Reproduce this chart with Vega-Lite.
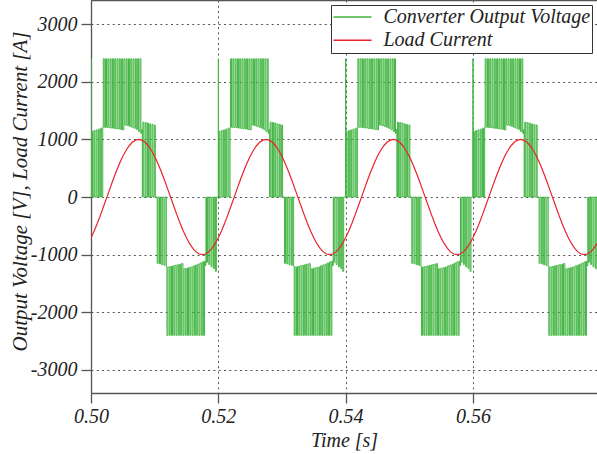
{
  "$schema": "https://vega.github.io/schema/vega-lite/v6.json",
  "width": 506,
  "height": 393,
  "autosize": {"type": "none"},
  "padding": {"left": 91, "top": 0, "right": 0, "bottom": 61},
  "background": "white",
  "config": {
    "view": {"stroke": null},
    "font": "Liberation Serif, Times New Roman, serif",
    "axis": {
      "domainColor": "#555", "domainWidth": 1.3,
      "tickColor": "#555", "tickWidth": 1.3, "tickSize": 10,
      "gridColor": "#555", "gridDash": [2, 3.3], "gridWidth": 1, "gridOpacity": 1,
      "labelFont": "Liberation Serif, Times New Roman, serif", "labelFontStyle": "italic", "labelFontSize": 20, "labelColor": "#222",
      "labelFlush": false, "labelOverlap": false,
      "titleFont": "Liberation Serif, Times New Roman, serif", "titleFontStyle": "italic", "titleFontSize": 20, "titleFontWeight": "normal", "titleColor": "#222"
    },
    "axisX": {"labelPadding": 3},
    "axisY": {"labelPadding": 4, "titleFontSize": 21}
  },
  "datasets": {
    "volt": [
{"t":0.50000,"v":2400},{"t":0.50003,"v":0},{"t":0.50008,"v":1140},{"t":0.50023,"v":0},{"t":0.50044,"v":1155},{"t":0.50059,"v":0},{"t":0.50080,"v":1165},{"t":0.50095,"v":0},{"t":0.50116,"v":1180},{"t":0.50131,"v":0},{"t":0.50152,"v":1195},{"t":0.50167,"v":0},{"t":0.50185,"v":1210},
{"t":0.50193,"v":2400},{"t":0.50208,"v":1212},{"t":0.50229,"v":2400},{"t":0.50244,"v":1208},{"t":0.50265,"v":2400},{"t":0.50280,"v":1205},{"t":0.50301,"v":2400},{"t":0.50316,"v":1198},{"t":0.50337,"v":2400},{"t":0.50352,"v":1193},{"t":0.50373,"v":2400},{"t":0.50388,"v":1188},{"t":0.50409,"v":2400},{"t":0.50424,"v":1182},{"t":0.50445,"v":2400},{"t":0.50460,"v":1175},{"t":0.50481,"v":2400},{"t":0.50496,"v":1165},{"t":0.50517,"v":2400},{"t":0.50532,"v":1250},{"t":0.50553,"v":2400},{"t":0.50568,"v":1240},{"t":0.50589,"v":2400},{"t":0.50604,"v":1228},{"t":0.50625,"v":2400},{"t":0.50640,"v":1212},{"t":0.50661,"v":2400},{"t":0.50676,"v":1195},{"t":0.50697,"v":2400},{"t":0.50712,"v":1175},{"t":0.50733,"v":2400},{"t":0.50748,"v":1140},{"t":0.50769,"v":2400},{"t":0.50784,"v":1105},{"t":0.50795,"v":1170},
{"t":0.50806,"v":0},{"t":0.50815,"v":1300},{"t":0.50830,"v":0},{"t":0.50851,"v":1295},{"t":0.50866,"v":0},{"t":0.50887,"v":1285},{"t":0.50902,"v":0},{"t":0.50923,"v":1270},{"t":0.50938,"v":0},{"t":0.50959,"v":1260},{"t":0.50974,"v":0},{"t":0.50995,"v":1250},{"t":0.51010,"v":0},
{"t":0.51040,"v":-1150},{"t":0.51055,"v":0},{"t":0.51076,"v":-1160},{"t":0.51091,"v":0},{"t":0.51112,"v":-1175},{"t":0.51127,"v":0},{"t":0.51148,"v":-1185},{"t":0.51163,"v":0},{"t":0.51184,"v":-1205},
{"t":0.51193,"v":-2400},{"t":0.51208,"v":-1215},{"t":0.51229,"v":-2400},{"t":0.51244,"v":-1205},{"t":0.51265,"v":-2400},{"t":0.51280,"v":-1195},{"t":0.51301,"v":-2400},{"t":0.51316,"v":-1185},{"t":0.51337,"v":-2400},{"t":0.51352,"v":-1175},{"t":0.51373,"v":-2400},{"t":0.51388,"v":-1165},{"t":0.51409,"v":-2400},{"t":0.51424,"v":-1155},{"t":0.51445,"v":-2400},{"t":0.51460,"v":-1245},{"t":0.51481,"v":-2400},{"t":0.51496,"v":-1235},{"t":0.51517,"v":-2400},{"t":0.51532,"v":-1225},{"t":0.51553,"v":-2400},{"t":0.51568,"v":-1215},{"t":0.51589,"v":-2400},{"t":0.51604,"v":-1195},{"t":0.51625,"v":-2400},{"t":0.51640,"v":-1180},{"t":0.51661,"v":-2400},{"t":0.51676,"v":-1165},{"t":0.51697,"v":-2400},{"t":0.51712,"v":-1145},{"t":0.51733,"v":-2400},{"t":0.51748,"v":-1125},{"t":0.51769,"v":-2400},{"t":0.51784,"v":-1110},{"t":0.51795,"v":-1190},
{"t":0.51806,"v":0},{"t":0.51815,"v":-1130},{"t":0.51830,"v":0},{"t":0.51851,"v":-1170},{"t":0.51866,"v":0},{"t":0.51887,"v":-1210},{"t":0.51902,"v":0},{"t":0.51923,"v":-1240},{"t":0.51938,"v":0},{"t":0.51955,"v":-1290},{"t":0.51970,"v":0},

{"t":0.52000,"v":2400},{"t":0.52003,"v":0},{"t":0.52008,"v":1140},{"t":0.52023,"v":0},{"t":0.52044,"v":1155},{"t":0.52059,"v":0},{"t":0.52080,"v":1165},{"t":0.52095,"v":0},{"t":0.52116,"v":1180},{"t":0.52131,"v":0},{"t":0.52152,"v":1195},{"t":0.52167,"v":0},{"t":0.52185,"v":1210},
{"t":0.52193,"v":2400},{"t":0.52208,"v":1212},{"t":0.52229,"v":2400},{"t":0.52244,"v":1208},{"t":0.52265,"v":2400},{"t":0.52280,"v":1205},{"t":0.52301,"v":2400},{"t":0.52316,"v":1198},{"t":0.52337,"v":2400},{"t":0.52352,"v":1193},{"t":0.52373,"v":2400},{"t":0.52388,"v":1188},{"t":0.52409,"v":2400},{"t":0.52424,"v":1182},{"t":0.52445,"v":2400},{"t":0.52460,"v":1175},{"t":0.52481,"v":2400},{"t":0.52496,"v":1165},{"t":0.52517,"v":2400},{"t":0.52532,"v":1250},{"t":0.52553,"v":2400},{"t":0.52568,"v":1240},{"t":0.52589,"v":2400},{"t":0.52604,"v":1228},{"t":0.52625,"v":2400},{"t":0.52640,"v":1212},{"t":0.52661,"v":2400},{"t":0.52676,"v":1195},{"t":0.52697,"v":2400},{"t":0.52712,"v":1175},{"t":0.52733,"v":2400},{"t":0.52748,"v":1140},{"t":0.52769,"v":2400},{"t":0.52784,"v":1105},{"t":0.52795,"v":1170},
{"t":0.52806,"v":0},{"t":0.52815,"v":1300},{"t":0.52830,"v":0},{"t":0.52851,"v":1295},{"t":0.52866,"v":0},{"t":0.52887,"v":1285},{"t":0.52902,"v":0},{"t":0.52923,"v":1270},{"t":0.52938,"v":0},{"t":0.52959,"v":1260},{"t":0.52974,"v":0},{"t":0.52995,"v":1250},{"t":0.53010,"v":0},
{"t":0.53040,"v":-1150},{"t":0.53055,"v":0},{"t":0.53076,"v":-1160},{"t":0.53091,"v":0},{"t":0.53112,"v":-1175},{"t":0.53127,"v":0},{"t":0.53148,"v":-1185},{"t":0.53163,"v":0},{"t":0.53184,"v":-1205},
{"t":0.53193,"v":-2400},{"t":0.53208,"v":-1215},{"t":0.53229,"v":-2400},{"t":0.53244,"v":-1205},{"t":0.53265,"v":-2400},{"t":0.53280,"v":-1195},{"t":0.53301,"v":-2400},{"t":0.53316,"v":-1185},{"t":0.53337,"v":-2400},{"t":0.53352,"v":-1175},{"t":0.53373,"v":-2400},{"t":0.53388,"v":-1165},{"t":0.53409,"v":-2400},{"t":0.53424,"v":-1155},{"t":0.53445,"v":-2400},{"t":0.53460,"v":-1245},{"t":0.53481,"v":-2400},{"t":0.53496,"v":-1235},{"t":0.53517,"v":-2400},{"t":0.53532,"v":-1225},{"t":0.53553,"v":-2400},{"t":0.53568,"v":-1215},{"t":0.53589,"v":-2400},{"t":0.53604,"v":-1195},{"t":0.53625,"v":-2400},{"t":0.53640,"v":-1180},{"t":0.53661,"v":-2400},{"t":0.53676,"v":-1165},{"t":0.53697,"v":-2400},{"t":0.53712,"v":-1145},{"t":0.53733,"v":-2400},{"t":0.53748,"v":-1125},{"t":0.53769,"v":-2400},{"t":0.53784,"v":-1110},{"t":0.53795,"v":-1190},
{"t":0.53806,"v":0},{"t":0.53815,"v":-1130},{"t":0.53830,"v":0},{"t":0.53851,"v":-1170},{"t":0.53866,"v":0},{"t":0.53887,"v":-1210},{"t":0.53902,"v":0},{"t":0.53923,"v":-1240},{"t":0.53938,"v":0},{"t":0.53955,"v":-1290},{"t":0.53970,"v":0},

{"t":0.54000,"v":2400},{"t":0.54003,"v":0},{"t":0.54008,"v":1140},{"t":0.54023,"v":0},{"t":0.54044,"v":1155},{"t":0.54059,"v":0},{"t":0.54080,"v":1165},{"t":0.54095,"v":0},{"t":0.54116,"v":1180},{"t":0.54131,"v":0},{"t":0.54152,"v":1195},{"t":0.54167,"v":0},{"t":0.54185,"v":1210},
{"t":0.54193,"v":2400},{"t":0.54208,"v":1212},{"t":0.54229,"v":2400},{"t":0.54244,"v":1208},{"t":0.54265,"v":2400},{"t":0.54280,"v":1205},{"t":0.54301,"v":2400},{"t":0.54316,"v":1198},{"t":0.54337,"v":2400},{"t":0.54352,"v":1193},{"t":0.54373,"v":2400},{"t":0.54388,"v":1188},{"t":0.54409,"v":2400},{"t":0.54424,"v":1182},{"t":0.54445,"v":2400},{"t":0.54460,"v":1175},{"t":0.54481,"v":2400},{"t":0.54496,"v":1165},{"t":0.54517,"v":2400},{"t":0.54532,"v":1250},{"t":0.54553,"v":2400},{"t":0.54568,"v":1240},{"t":0.54589,"v":2400},{"t":0.54604,"v":1228},{"t":0.54625,"v":2400},{"t":0.54640,"v":1212},{"t":0.54661,"v":2400},{"t":0.54676,"v":1195},{"t":0.54697,"v":2400},{"t":0.54712,"v":1175},{"t":0.54733,"v":2400},{"t":0.54748,"v":1140},{"t":0.54769,"v":2400},{"t":0.54784,"v":1105},{"t":0.54795,"v":1170},
{"t":0.54806,"v":0},{"t":0.54815,"v":1300},{"t":0.54830,"v":0},{"t":0.54851,"v":1295},{"t":0.54866,"v":0},{"t":0.54887,"v":1285},{"t":0.54902,"v":0},{"t":0.54923,"v":1270},{"t":0.54938,"v":0},{"t":0.54959,"v":1260},{"t":0.54974,"v":0},{"t":0.54995,"v":1250},{"t":0.55010,"v":0},
{"t":0.55040,"v":-1150},{"t":0.55055,"v":0},{"t":0.55076,"v":-1160},{"t":0.55091,"v":0},{"t":0.55112,"v":-1175},{"t":0.55127,"v":0},{"t":0.55148,"v":-1185},{"t":0.55163,"v":0},{"t":0.55184,"v":-1205},
{"t":0.55193,"v":-2400},{"t":0.55208,"v":-1215},{"t":0.55229,"v":-2400},{"t":0.55244,"v":-1205},{"t":0.55265,"v":-2400},{"t":0.55280,"v":-1195},{"t":0.55301,"v":-2400},{"t":0.55316,"v":-1185},{"t":0.55337,"v":-2400},{"t":0.55352,"v":-1175},{"t":0.55373,"v":-2400},{"t":0.55388,"v":-1165},{"t":0.55409,"v":-2400},{"t":0.55424,"v":-1155},{"t":0.55445,"v":-2400},{"t":0.55460,"v":-1245},{"t":0.55481,"v":-2400},{"t":0.55496,"v":-1235},{"t":0.55517,"v":-2400},{"t":0.55532,"v":-1225},{"t":0.55553,"v":-2400},{"t":0.55568,"v":-1215},{"t":0.55589,"v":-2400},{"t":0.55604,"v":-1195},{"t":0.55625,"v":-2400},{"t":0.55640,"v":-1180},{"t":0.55661,"v":-2400},{"t":0.55676,"v":-1165},{"t":0.55697,"v":-2400},{"t":0.55712,"v":-1145},{"t":0.55733,"v":-2400},{"t":0.55748,"v":-1125},{"t":0.55769,"v":-2400},{"t":0.55784,"v":-1110},{"t":0.55795,"v":-1190},
{"t":0.55806,"v":0},{"t":0.55815,"v":-1130},{"t":0.55830,"v":0},{"t":0.55851,"v":-1170},{"t":0.55866,"v":0},{"t":0.55887,"v":-1210},{"t":0.55902,"v":0},{"t":0.55923,"v":-1240},{"t":0.55938,"v":0},{"t":0.55955,"v":-1290},{"t":0.55970,"v":0},

{"t":0.56000,"v":2400},{"t":0.56003,"v":0},{"t":0.56008,"v":1140},{"t":0.56023,"v":0},{"t":0.56044,"v":1155},{"t":0.56059,"v":0},{"t":0.56080,"v":1165},{"t":0.56095,"v":0},{"t":0.56116,"v":1180},{"t":0.56131,"v":0},{"t":0.56152,"v":1195},{"t":0.56167,"v":0},{"t":0.56185,"v":1210},
{"t":0.56193,"v":2400},{"t":0.56208,"v":1212},{"t":0.56229,"v":2400},{"t":0.56244,"v":1208},{"t":0.56265,"v":2400},{"t":0.56280,"v":1205},{"t":0.56301,"v":2400},{"t":0.56316,"v":1198},{"t":0.56337,"v":2400},{"t":0.56352,"v":1193},{"t":0.56373,"v":2400},{"t":0.56388,"v":1188},{"t":0.56409,"v":2400},{"t":0.56424,"v":1182},{"t":0.56445,"v":2400},{"t":0.56460,"v":1175},{"t":0.56481,"v":2400},{"t":0.56496,"v":1165},{"t":0.56517,"v":2400},{"t":0.56532,"v":1250},{"t":0.56553,"v":2400},{"t":0.56568,"v":1240},{"t":0.56589,"v":2400},{"t":0.56604,"v":1228},{"t":0.56625,"v":2400},{"t":0.56640,"v":1212},{"t":0.56661,"v":2400},{"t":0.56676,"v":1195},{"t":0.56697,"v":2400},{"t":0.56712,"v":1175},{"t":0.56733,"v":2400},{"t":0.56748,"v":1140},{"t":0.56769,"v":2400},{"t":0.56784,"v":1105},{"t":0.56795,"v":1170},
{"t":0.56806,"v":0},{"t":0.56815,"v":1300},{"t":0.56830,"v":0},{"t":0.56851,"v":1295},{"t":0.56866,"v":0},{"t":0.56887,"v":1285},{"t":0.56902,"v":0},{"t":0.56923,"v":1270},{"t":0.56938,"v":0},{"t":0.56959,"v":1260},{"t":0.56974,"v":0},{"t":0.56995,"v":1250},{"t":0.57010,"v":0},
{"t":0.57040,"v":-1150},{"t":0.57055,"v":0},{"t":0.57076,"v":-1160},{"t":0.57091,"v":0},{"t":0.57112,"v":-1175},{"t":0.57127,"v":0},{"t":0.57148,"v":-1185},{"t":0.57163,"v":0},{"t":0.57184,"v":-1205},
{"t":0.57193,"v":-2400},{"t":0.57208,"v":-1215},{"t":0.57229,"v":-2400},{"t":0.57244,"v":-1205},{"t":0.57265,"v":-2400},{"t":0.57280,"v":-1195},{"t":0.57301,"v":-2400},{"t":0.57316,"v":-1185},{"t":0.57337,"v":-2400},{"t":0.57352,"v":-1175},{"t":0.57373,"v":-2400},{"t":0.57388,"v":-1165},{"t":0.57409,"v":-2400},{"t":0.57424,"v":-1155},{"t":0.57445,"v":-2400},{"t":0.57460,"v":-1245},{"t":0.57481,"v":-2400},{"t":0.57496,"v":-1235},{"t":0.57517,"v":-2400},{"t":0.57532,"v":-1225},{"t":0.57553,"v":-2400},{"t":0.57568,"v":-1215},{"t":0.57589,"v":-2400},{"t":0.57604,"v":-1195},{"t":0.57625,"v":-2400},{"t":0.57640,"v":-1180},{"t":0.57661,"v":-2400},{"t":0.57676,"v":-1165},{"t":0.57697,"v":-2400},{"t":0.57712,"v":-1145},{"t":0.57733,"v":-2400},{"t":0.57748,"v":-1125},{"t":0.57769,"v":-2400},{"t":0.57784,"v":-1110},{"t":0.57795,"v":-1190},
{"t":0.57806,"v":0},{"t":0.57815,"v":-1130},{"t":0.57830,"v":0},{"t":0.57851,"v":-1170},{"t":0.57866,"v":0},{"t":0.57887,"v":-1210},{"t":0.57902,"v":0},{"t":0.57923,"v":-1240},{"t":0.57938,"v":0},{"t":0.57955,"v":-1290},{"t":0.57970,"v":0}
    ],
    "curr": [
{"t":0.5000,"i":-707},{"t":0.5005,"i":-588},{"t":0.5010,"i":-454},{"t":0.5015,"i":-309},{"t":0.5020,"i":-156},{"t":0.5025,"i":0},{"t":0.5030,"i":156},{"t":0.5035,"i":309},{"t":0.5040,"i":454},{"t":0.5045,"i":588},
{"t":0.5050,"i":707},{"t":0.5055,"i":809},{"t":0.5060,"i":891},{"t":0.5065,"i":951},{"t":0.5070,"i":988},{"t":0.5075,"i":1000},{"t":0.5080,"i":988},{"t":0.5085,"i":951},{"t":0.5090,"i":891},{"t":0.5095,"i":809},
{"t":0.5100,"i":707},{"t":0.5105,"i":588},{"t":0.5110,"i":454},{"t":0.5115,"i":309},{"t":0.5120,"i":156},{"t":0.5125,"i":0},{"t":0.5130,"i":-156},{"t":0.5135,"i":-309},{"t":0.5140,"i":-454},{"t":0.5145,"i":-588},
{"t":0.5150,"i":-707},{"t":0.5155,"i":-809},{"t":0.5160,"i":-891},{"t":0.5165,"i":-951},{"t":0.5170,"i":-988},{"t":0.5175,"i":-1000},{"t":0.5180,"i":-988},{"t":0.5185,"i":-951},{"t":0.5190,"i":-891},{"t":0.5195,"i":-809},
{"t":0.5200,"i":-707},{"t":0.5205,"i":-588},{"t":0.5210,"i":-454},{"t":0.5215,"i":-309},{"t":0.5220,"i":-156},{"t":0.5225,"i":0},{"t":0.5230,"i":156},{"t":0.5235,"i":309},{"t":0.5240,"i":454},{"t":0.5245,"i":588},
{"t":0.5250,"i":707},{"t":0.5255,"i":809},{"t":0.5260,"i":891},{"t":0.5265,"i":951},{"t":0.5270,"i":988},{"t":0.5275,"i":1000},{"t":0.5280,"i":988},{"t":0.5285,"i":951},{"t":0.5290,"i":891},{"t":0.5295,"i":809},
{"t":0.5300,"i":707},{"t":0.5305,"i":588},{"t":0.5310,"i":454},{"t":0.5315,"i":309},{"t":0.5320,"i":156},{"t":0.5325,"i":0},{"t":0.5330,"i":-156},{"t":0.5335,"i":-309},{"t":0.5340,"i":-454},{"t":0.5345,"i":-588},
{"t":0.5350,"i":-707},{"t":0.5355,"i":-809},{"t":0.5360,"i":-891},{"t":0.5365,"i":-951},{"t":0.5370,"i":-988},{"t":0.5375,"i":-1000},{"t":0.5380,"i":-988},{"t":0.5385,"i":-951},{"t":0.5390,"i":-891},{"t":0.5395,"i":-809},
{"t":0.5400,"i":-707},{"t":0.5405,"i":-588},{"t":0.5410,"i":-454},{"t":0.5415,"i":-309},{"t":0.5420,"i":-156},{"t":0.5425,"i":0},{"t":0.5430,"i":156},{"t":0.5435,"i":309},{"t":0.5440,"i":454},{"t":0.5445,"i":588},
{"t":0.5450,"i":707},{"t":0.5455,"i":809},{"t":0.5460,"i":891},{"t":0.5465,"i":951},{"t":0.5470,"i":988},{"t":0.5475,"i":1000},{"t":0.5480,"i":988},{"t":0.5485,"i":951},{"t":0.5490,"i":891},{"t":0.5495,"i":809},
{"t":0.5500,"i":707},{"t":0.5505,"i":588},{"t":0.5510,"i":454},{"t":0.5515,"i":309},{"t":0.5520,"i":156},{"t":0.5525,"i":0},{"t":0.5530,"i":-156},{"t":0.5535,"i":-309},{"t":0.5540,"i":-454},{"t":0.5545,"i":-588},
{"t":0.5550,"i":-707},{"t":0.5555,"i":-809},{"t":0.5560,"i":-891},{"t":0.5565,"i":-951},{"t":0.5570,"i":-988},{"t":0.5575,"i":-1000},{"t":0.5580,"i":-988},{"t":0.5585,"i":-951},{"t":0.5590,"i":-891},{"t":0.5595,"i":-809},
{"t":0.5600,"i":-707},{"t":0.5605,"i":-588},{"t":0.5610,"i":-454},{"t":0.5615,"i":-309},{"t":0.5620,"i":-156},{"t":0.5625,"i":0},{"t":0.5630,"i":156},{"t":0.5635,"i":309},{"t":0.5640,"i":454},{"t":0.5645,"i":588},
{"t":0.5650,"i":707},{"t":0.5655,"i":809},{"t":0.5660,"i":891},{"t":0.5665,"i":951},{"t":0.5670,"i":988},{"t":0.5675,"i":1000},{"t":0.5680,"i":988},{"t":0.5685,"i":951},{"t":0.5690,"i":891},{"t":0.5695,"i":809},
{"t":0.5700,"i":707},{"t":0.5705,"i":588},{"t":0.5710,"i":454},{"t":0.5715,"i":309},{"t":0.5720,"i":156},{"t":0.5725,"i":0},{"t":0.5730,"i":-156},{"t":0.5735,"i":-309},{"t":0.5740,"i":-454},{"t":0.5745,"i":-588},
{"t":0.5750,"i":-707},{"t":0.5755,"i":-809},{"t":0.5760,"i":-891},{"t":0.5765,"i":-951},{"t":0.5770,"i":-988},{"t":0.5775,"i":-1000},{"t":0.5780,"i":-988},{"t":0.5785,"i":-951},{"t":0.5790,"i":-891},{"t":0.5795,"i":-809},
{"t":0.5800,"i":-707}
    ]
  },
  "layer": [
    {
      "data": {"name": "volt"},
      "mark": {"type": "line", "interpolate": "step-after", "strokeWidth": 1, "clip": true},
      "encoding": {
        "x": {"field": "t", "type": "quantitative", "scale": {"domain": [0.5, 0.5795], "nice": false, "zero": false},
              "axis": {"values": [0.5, 0.52, 0.54, 0.56], "format": ".2f", "title": "Time [s]", "titleY": 53, "titleBaseline": "alphabetic", "grid": true}},
        "y": {"field": "v", "type": "quantitative", "scale": {"domain": [-3400, 3420], "nice": false, "zero": false},
              "title": "Output Voltage [V], Load Current [A]",
              "axis": {"values": [-3000, -2000, -1000, 0, 1000, 2000, 3000], "labelExpr": "'' + datum.value", "titleX": -65, "titleY": 191, "titleBaseline": "alphabetic", "titleAngle": 270, "titleAlign": "center", "grid": true}},
        "color": {"datum": "Converter Output Voltage", "type": "nominal",
                  "scale": {"domain": ["Converter Output Voltage", "Load Current"], "range": ["#42b542", "#e8232b"]},
                  "legend": {"orient": "none", "legendX": 240, "legendY": 5, "title": null, "symbolType": "stroke", "symbolSize": 1444, "symbolStrokeWidth": 1.5, "clipHeight": 21, "rowPadding": 2.3, "padding": 1.5, "labelOffset": 11, "labelFont": "Liberation Serif, Times New Roman, serif", "labelFontStyle": "italic", "labelFontSize": 20, "labelColor": "#222", "labelLimit": 400, "strokeColor": "#333", "fillColor": "white"}}
      }
    },
    {
      "data": {"name": "curr"},
      "mark": {"type": "line", "strokeWidth": 1.2, "clip": true},
      "encoding": {
        "x": {"field": "t", "type": "quantitative", "axis": {"orient": "top", "labels": false, "ticks": false, "grid": false, "title": null}},
        "y": {"field": "i", "type": "quantitative",
              "title": "Output Voltage [V], Load Current [A]",
              "axis": {"values": [-3000, -2000, -1000, 0, 1000, 2000, 3000], "labelExpr": "'' + datum.value", "titleX": -65, "titleY": 191, "titleBaseline": "alphabetic", "titleAngle": 270, "titleAlign": "center", "grid": true}},
        "color": {"datum": "Load Current", "type": "nominal"}
      }
    }
  ],
  "resolve": {"axis": {"x": "independent"}}
}
